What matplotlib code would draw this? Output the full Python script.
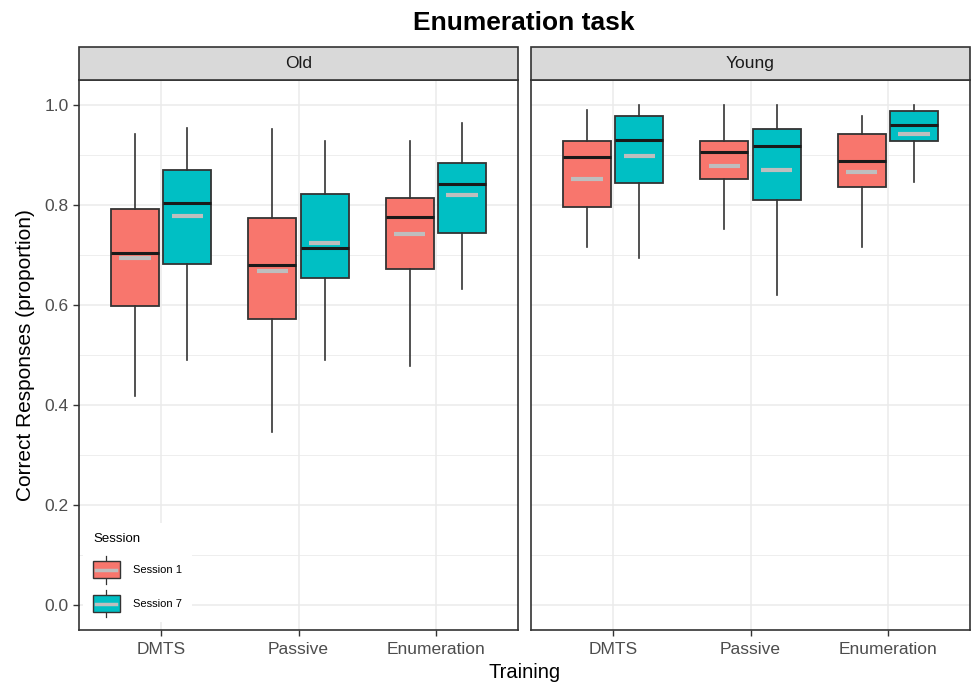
import numpy as np
import matplotlib
matplotlib.use('Agg')
import matplotlib.pyplot as plt
from matplotlib.patches import Rectangle, Patch
from matplotlib.lines import Line2D
from matplotlib.legend_handler import HandlerBase

plt.rcParams['font.family'] = ['Liberation Sans', 'DejaVu Sans']

TRAINING = ['DMTS', 'Passive', 'Enumeration']
GROUPS = ['Old', 'Young']
SESSIONS = ['Session 1', 'Session 7']
COLORS = ['#F8766D', '#00BFC4']

# box stats per training: [whisker low, q1, median, q3, whisker high, mean]
old_s1 = [[0.419, 0.599, 0.705, 0.792, 0.942, 0.695],
          [0.347, 0.573, 0.681, 0.774, 0.952, 0.669],
          [0.479, 0.673, 0.776, 0.814, 0.928, 0.742]]
old_s7 = [[0.491, 0.683, 0.804, 0.870, 0.954, 0.778],
          [0.491, 0.655, 0.715, 0.822, 0.928, 0.725],
          [0.633, 0.745, 0.842, 0.884, 0.964, 0.820]]
young_s1 = [[0.717, 0.796, 0.896, 0.928, 0.990, 0.852],
            [0.752, 0.852, 0.906, 0.928, 1.000, 0.878],
            [0.717, 0.836, 0.888, 0.942, 0.978, 0.866]]
young_s7 = [[0.695, 0.844, 0.930, 0.978, 1.000, 0.898],
            [0.621, 0.810, 0.918, 0.952, 1.000, 0.870],
            [0.846, 0.928, 0.960, 0.988, 1.000, 0.942]]

DATA = {'Old': [old_s1, old_s7], 'Young': [young_s1, young_s7]}

EDGE = '#333333'
MEANCOL = '#BEBEBE'
GRID = '#EBEBEB'
OFFSET = 0.19
WIDTH = 0.35


class BoxHandler(HandlerBase):
    def create_artists(self, legend, orig_handle, xdescent, ydescent,
                       width, height, fontsize, trans):
        x0, y0 = -xdescent, -ydescent
        xc = x0 + width / 2
        whisk = Line2D([xc, xc], [y0 - 0.3 * height, y0 + 1.3 * height],
                       color=EDGE, lw=0.9, transform=trans)
        box = Rectangle((x0, y0), width, height, facecolor=orig_handle.get_facecolor(),
                        edgecolor=EDGE, lw=1.0, transform=trans)
        mean = Line2D([x0 + 0.12 * width, x0 + 0.88 * width], [y0 + height / 2] * 2,
                      color=MEANCOL, lw=2.5, transform=trans)
        return [whisk, box, mean]


fig = plt.figure(figsize=(9.72, 6.85), dpi=100)
fig.patch.set_facecolor('white')

panel_left = [79 / 972, 531 / 972]
panel_w = 439 / 972
bottom = 1 - 630 / 685
height = 550 / 685
strip_h = 33 / 685

axes = []
for g, group in enumerate(GROUPS):
    ax = fig.add_axes([panel_left[g], bottom, panel_w, height])
    axes.append(ax)
    for s in range(2):
        stats = []
        pos = []
        for i, row in enumerate(DATA[group][s]):
            stats.append(dict(whislo=row[0], q1=row[1], med=row[2], q3=row[3],
                              whishi=row[4], fliers=[]))
            pos.append(i + 1 + (2 * s - 1) * OFFSET)
        ax.bxp(stats, positions=pos, widths=WIDTH, patch_artist=True,
               showcaps=False, showfliers=False, manage_ticks=False,
               boxprops=dict(facecolor=COLORS[s], edgecolor=EDGE, lw=1.3),
               medianprops=dict(color='#1A1A1A', lw=2.2),
               whiskerprops=dict(color=EDGE, lw=1.2), zorder=3)
        means = [row[5] for row in DATA[group][s]]
        ax.hlines(means, np.array(pos) - WIDTH * 0.33, np.array(pos) + WIDTH * 0.33,
                  color=MEANCOL, lw=3, zorder=5)

    ax.set_xlim(0.4, 3.6)
    ax.set_ylim(-0.05, 1.05)
    ax.set_xticks([1, 2, 3])
    ax.set_xticklabels(TRAINING)
    ax.set_yticks(np.arange(0, 1.01, 0.2))
    ax.set_yticks(np.arange(0.1, 1.0, 0.2), minor=True)
    ax.grid(True, which='major', color=GRID, lw=1.1)
    ax.grid(True, which='minor', axis='y', color=GRID, lw=0.6)
    ax.set_axisbelow(True)
    ax.tick_params(axis='both', which='major', colors=EDGE, labelcolor='#4D4D4D',
                   labelsize=12.5, length=4, width=1)
    ax.tick_params(axis='x', pad=5)
    ax.tick_params(axis='y', which='minor', length=0)
    for sp in ax.spines.values():
        sp.set_color(EDGE)
        sp.set_linewidth(1.2)
    if g == 0:
        ax.set_yticklabels(['0.0', '0.2', '0.4', '0.6', '0.8', '1.0'])
    else:
        ax.tick_params(axis='y', which='major', length=0, labelleft=False)

    # facet strip
    strip = Rectangle((panel_left[g], bottom + height), panel_w, strip_h,
                      transform=fig.transFigure, facecolor='#D9D9D9',
                      edgecolor=EDGE, lw=1.2)
    fig.add_artist(strip)
    fig.text(panel_left[g] + panel_w / 2, bottom + height + strip_h / 2, group,
             ha='center', va='center', fontsize=12.5, color='#1A1A1A')

fig.text(0.539, 0.967, 'Enumeration task', ha='center', va='center',
         fontsize=19, fontweight='bold')
fig.text(0.54, 0.018, 'Training', ha='center', va='center', fontsize=14.5)
fig.text(0.026, bottom + height / 2, 'Correct Responses (proportion)', ha='center',
         va='center', rotation=90, fontsize=15)

handles = [Patch(facecolor=c) for c in COLORS]
leg = axes[0].legend(handles, SESSIONS, title='Session', loc='lower left',
                     bbox_to_anchor=(0.009, 0.014), fontsize=8, title_fontsize=9.5,
                     handler_map={Patch: BoxHandler()}, handlelength=2.4,
                     handleheight=2.0, labelspacing=1.5, handletextpad=1.2,
                     frameon=True, fancybox=False, borderpad=0.9,
                     borderaxespad=0.0)
leg.get_frame().set_edgecolor('none')
leg.get_frame().set_facecolor('white')
leg.get_frame().set_alpha(1)
leg._legend_box.align = 'left'
leg.set_zorder(10)

fig.savefig('out.png', dpi=100, facecolor='white')
